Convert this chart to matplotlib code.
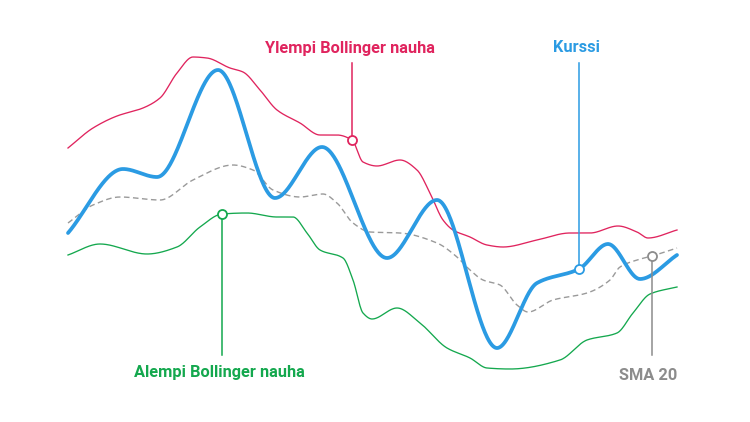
import numpy as np
import matplotlib
matplotlib.use('Agg')
import matplotlib.pyplot as plt

# day index / value pairs
price_days = [0, 5.5, 8.9, 15.0, 20.7, 25.4, 31.9, 36.9, 42.9, 46.9, 51.1, 54.0, 57.2, 60.9]
price = [18.9, 25.3, 24.5, 35.2, 22.4, 27.5, 16.4, 22.2, 7.4, 13.9, 15.3, 17.8, 14.3, 16.7]

upper_days = [0, 2.5, 4.9, 7.5, 9.2, 10.9, 12.5, 13.9, 16.2, 17.5, 19.2, 20.9, 23.2, 25.2, 26.9,
              28.4, 29.5, 30.9, 33.2, 34.9, 36.2, 37.5, 38.5, 40.2, 41.9, 43.5, 46.9, 50.2,
              52.2, 55.0, 56.9, 58.0, 60.9]
upper = [27.4, 29.4, 30.6, 31.4, 32.4, 34.9, 36.5, 36.4, 35.4, 35.0, 33.2, 31.2, 29.9, 28.7, 28.7,
         28.2, 26.0, 25.6, 26.2, 25.2, 22.9, 20.2, 19.2, 18.5, 17.7, 17.5, 18.2, 18.9,
         18.9, 19.6, 19.0, 18.4, 19.2]

sma_days = [0, 2.5, 5.2, 9.2, 12.5, 16.5, 18.5, 20.5, 23.2, 25.5, 26.9, 28.5, 30.2, 33.2, 36.9,
            38.9, 40.2, 41.5, 43.2, 44.9, 46.0, 48.5, 51.9, 54.2, 55.2, 56.9, 58.4, 60.9]
sma = [19.9, 21.7, 22.5, 22.2, 24.2, 25.7, 25.2, 23.2, 22.5, 22.8, 21.9, 19.9, 19.0, 18.9, 17.9,
       16.5, 15.2, 14.2, 13.7, 11.7, 11.0, 12.2, 12.9, 14.2, 15.5, 16.2, 16.6, 17.4]

lower_days = [0, 3.2, 7.9, 10.9, 13.2, 15.4, 17.9, 20.9, 22.5, 23.9, 25.2, 27.5, 28.5, 29.5, 30.4,
              32.9, 35.2, 37.9, 40.2, 41.9, 44.2, 49.2, 51.9, 54.9, 56.5, 58.2, 60.9]
lower = [16.7, 17.8, 16.8, 17.5, 19.5, 20.8, 20.9, 20.5, 20.5, 18.9, 17.2, 16.4, 14.2, 10.9, 10.3,
         11.4, 9.9, 7.4, 6.4, 5.4, 5.3, 6.2, 8.2, 8.9, 10.9, 12.8, 13.5]

RED = '#e0245e'
BLUE = '#2b9be3'
GREEN = '#14a84e'
GRAY = '#8c8c8c'


def pchip(x, y, xs):
    # monotone cubic, just to draw the lines smooth
    x = np.asarray(x, float)
    y = np.asarray(y, float)
    h = np.diff(x)
    d = np.diff(y) / h
    m = np.zeros_like(y)
    m[0] = d[0]
    m[-1] = d[-1]
    for k in range(1, len(x) - 1):
        if d[k - 1] * d[k] > 0:
            w1 = 2 * h[k] + h[k - 1]
            w2 = h[k] + 2 * h[k - 1]
            m[k] = (w1 + w2) / (w1 / d[k - 1] + w2 / d[k])
    i = np.clip(np.searchsorted(x, xs) - 1, 0, len(x) - 2)
    t = (xs - x[i]) / h[i]
    h00 = 2 * t**3 - 3 * t**2 + 1
    h10 = t**3 - 2 * t**2 + t
    h01 = -2 * t**3 + 3 * t**2
    h11 = t**3 - t**2
    return h00 * y[i] + h10 * h[i] * m[i] + h01 * y[i + 1] + h11 * h[i] * m[i + 1]


fig = plt.figure(figsize=(7.5, 4.22), dpi=100)
ax = fig.add_axes([0, 0, 1, 1])
ax.set_xlim(-6.8, 68.2)
ax.set_ylim(0, 42.2)
ax.axis('off')

series = [
    (upper_days, upper, dict(color=RED, lw=0.95)),
    (lower_days, lower, dict(color=GREEN, lw=0.95)),
    (sma_days, sma, dict(color='#9a9a9a', lw=1.0, ls=(0, (4, 2.5)))),
    (price_days, price, dict(color=BLUE, lw=2.7, solid_capstyle='round')),
]
curves = []
for xd, yd, st in series:
    xs = np.linspace(xd[0], xd[-1], 800)
    ys = pchip(xd, yd, xs)
    ax.plot(xs, ys, **st)
    curves.append((xd, yd))

font = ['Liberation Sans Narrow', 'Roboto', 'DejaVu Sans']

# (series index, marker day, label, colour, line end, text x, text y)
labels = [
    (0, 28.4, 'Ylempi Bollinger nauha', RED, 35.9, 28.2, 37.3),
    (3, 51.1, 'Kurssi', BLUE, 35.9, 50.9, 37.4),
    (1, 15.4, 'Alempi Bollinger nauha', GREEN, 6.7, 15.1, 4.9),
    (2, 58.4, 'SMA 20', GRAY, 6.7, 58.0, 4.6),
]
for si, day, txt, col, line_end, tx, ty in labels:
    xd, yd = curves[si]
    yv = float(pchip(xd, yd, np.array([day]))[0])
    ax.plot([day, day], [yv, line_end], color=col, lw=1.1, zorder=4)
    ax.plot([day], [yv], 'o', ms=6.5, mfc='white', mec=col, mew=1.3, zorder=5)
    ax.text(tx, ty, txt, color=col, fontsize=11.8, fontweight='bold',
            family=font, ha='center', va='center')

fig.savefig('out.png', dpi=100)
